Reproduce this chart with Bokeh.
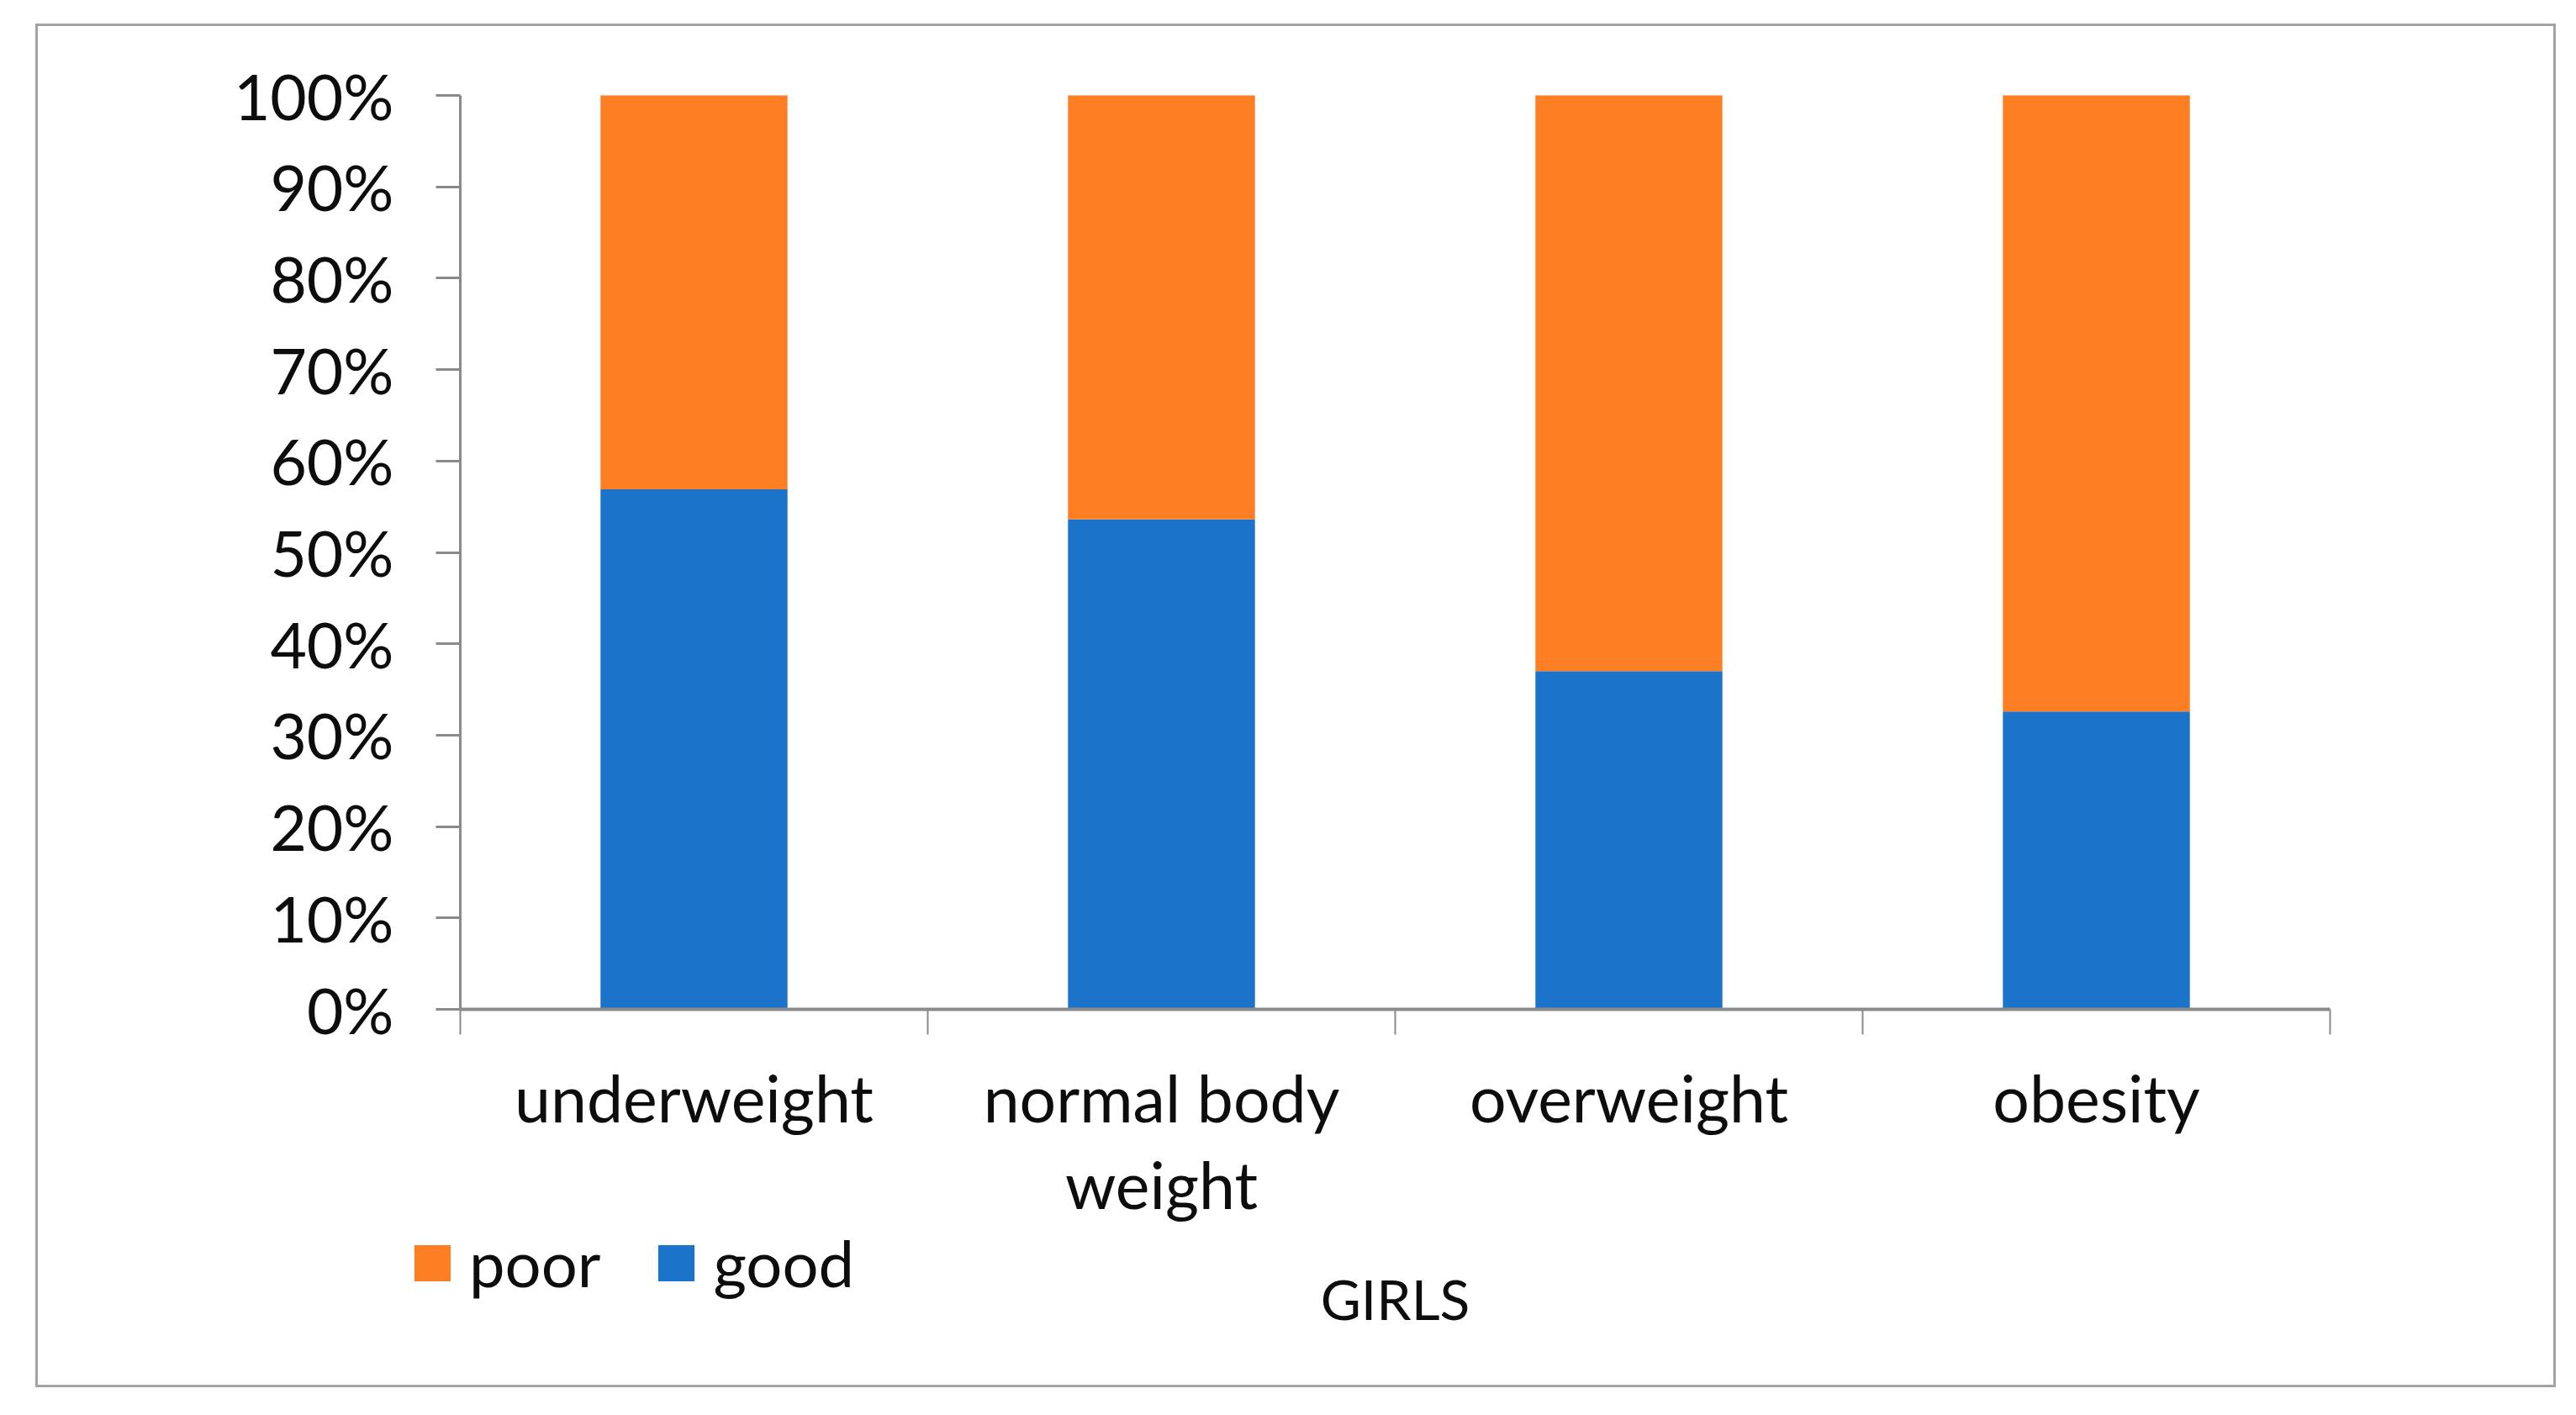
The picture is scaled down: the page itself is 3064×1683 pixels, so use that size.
from bokeh.plotting import figure
from bokeh.models import (ColumnDataSource, FixedTicker, LinearAxis, Legend, LegendItem,
                          Label, PrintfTickFormatter, Range1d)
from bokeh.embed import file_html
from bokeh.resources import INLINE

# ---- data ----
categories = ["underweight", "normal body\nweight", "overweight", "obesity"]
good = [56.9, 53.6, 37.0, 32.6]
poor = [100 - g for g in good]
y_ticks = [0, 10, 20, 30, 40, 50, 60, 70, 80, 90, 100]
title_text = "GIRLS"

x_pos = [i + 0.5 for i in range(len(categories))]
boundaries = list(range(len(categories) + 1))
n_cat = len(categories)

BLUE = "#1B74C9"
ORANGE = "#FD7E23"
GRID = "#8a8a8a"
FONT = "Lato"
TXT = "#0d0d0d"

# ---- layout (pixels): the frame fills the whole chart box, the plot area sits inside it ----
W, H = 2992, 1616
left_px, plot_w = 502, 2224
top_px, plot_h = 82, 1087
right_px = W - left_px - plot_w
bottom_px = H - top_px - plot_h
x_unit = plot_w / n_cat
y_unit = plot_h / 100.0
x_range = Range1d(-left_px / x_unit, n_cat + right_px / x_unit)
y_range = Range1d(-bottom_px / y_unit, 100 + top_px / y_unit)

src = ColumnDataSource(dict(x=x_pos, good=good, poor=poor))

p = figure(frame_width=W, frame_height=H, min_border=0,
           x_range=x_range, y_range=y_range,
           output_backend="svg", toolbar_location=None, x_axis_type=None, y_axis_type=None,
           styles={"border": "3px solid #a3a3a3", "margin-left": "42px", "margin-top": "28px"})
p.outline_line_color = None
p.background_fill_color = "white"
p.border_fill_color = "white"

# grid
p.ygrid.ticker = FixedTicker(ticks=y_ticks)
p.ygrid.grid_line_color = GRID
p.ygrid.grid_line_width = 3
p.ygrid.bounds = (0, 100)
p.ygrid.cross_bounds = (0, n_cat)
p.xgrid.grid_line_color = None

renderers = p.vbar_stack(["good", "poor"], x="x", width=0.4, color=[BLUE, ORANGE],
                         line_color=None, source=src)
r_good, r_poor = renderers

# y axis
yax = LinearAxis(ticker=FixedTicker(ticks=y_ticks, minor_ticks=[]),
                 formatter=PrintfTickFormatter(format="%d%%"),
                 fixed_location=0, bounds=(0, 100))
yax.axis_line_color = GRID
yax.axis_line_width = 3
yax.major_tick_line_color = GRID
yax.major_tick_line_width = 3
yax.major_tick_out = 29
yax.major_tick_in = 0
yax.minor_tick_line_color = None
yax.major_label_standoff = 50
yax.major_label_text_font = FONT
yax.major_label_text_font_size = "75px"
yax.major_label_text_color = TXT
p.add_layout(yax, "left")

# x axis (category labels between boundary ticks)
xax = LinearAxis(ticker=FixedTicker(ticks=x_pos, minor_ticks=boundaries),
                 fixed_location=0, bounds=(0, n_cat))
xax.major_label_overrides = {x: c for x, c in zip(x_pos, categories)}
xax.axis_line_color = GRID
xax.axis_line_width = 4
xax.major_tick_line_color = None
xax.major_tick_out = 0
xax.major_tick_in = 0
xax.minor_tick_line_color = GRID
xax.minor_tick_line_width = 2
xax.minor_tick_out = 30
xax.minor_tick_in = 0
xax.major_label_standoff = 28
xax.major_label_text_font = FONT
xax.major_label_text_font_size = "77px"
xax.major_label_text_color = TXT
xax.major_label_text_line_height = 1.13
p.add_layout(xax, "below")

# legend
legend = Legend(items=[LegendItem(label="poor", renderers=[r_poor]),
                       LegendItem(label="good", renderers=[r_good])],
                orientation="horizontal", location=(442, 100),
                glyph_width=54, glyph_height=54, label_height=54, label_standoff=17, spacing=63,
                padding=0, margin=0, border_line_color=None, background_fill_alpha=0,
                label_text_font=FONT, label_text_font_size="76px", label_text_color=TXT)
p.add_layout(legend, "center")

title = Label(x=n_cat / 2, y=103, x_units="data", y_units="screen", text=title_text,
              text_align="center", text_baseline="middle", text_font=FONT,
              text_font_size="66px", text_color=TXT)
p.add_layout(title)

open("out.html", "w").write(file_html(p, INLINE))
